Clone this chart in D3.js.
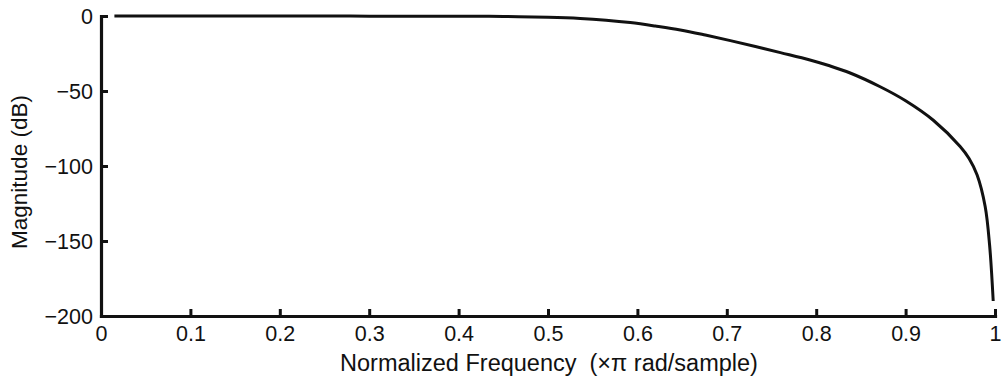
<!DOCTYPE html>
<html><head><meta charset="utf-8">
<script src="https://cdn.jsdelivr.net/npm/d3@7"></script>
<style>body{margin:0;background:#fff}svg{display:block}text{font-family:"Liberation Sans",Arial,sans-serif;fill:#111}</style>
</head><body>
<script>
const freq = [0.015, 0.1, 0.2, 0.3, 0.4, 0.45, 0.5, 0.536, 0.565, 0.592, 0.62, 0.648, 0.676, 0.704, 0.732, 0.76, 0.793, 0.815, 0.838, 0.871, 0.9, 0.931, 0.961, 0.971, 0.98, 0.989, 0.994, 0.998];
const magnitude = [0, 0, 0, -0.1, -0.2, -0.3, -0.8, -1.6, -2.8, -4.4, -6.7, -9.3, -12.7, -16.4, -20.3, -24.4, -29.3, -33.2, -38, -47, -56.5, -69.5, -87, -95, -106, -127, -153, -190];
const xTicks = [0, 0.1, 0.2, 0.3, 0.4, 0.5, 0.6, 0.7, 0.8, 0.9, 1];
const yTicks = [0, -50, -100, -150, -200];
const xLabel = "Normalized Frequency \u00a0(\u00d7\u03c0 rad/sample)";
const yLabel = "Magnitude (dB)";

const W = 1005, H = 383;
const svg = d3.select("body").append("svg").attr("width", W).attr("height", H);
const x = d3.scaleLinear().domain([0, 1]).range([101, 995]);
const y = d3.scaleLinear().domain([-200, 0]).range([316, 16]);

const fmt = d => d === 0 ? "0" : (Number.isInteger(d) ? String(d).replace("-", "\u2212") : String(d));

const gx = svg.append("g").attr("transform", `translate(0,${y(-200)})`)
  .call(d3.axisBottom(x).tickValues(xTicks).tickFormat(fmt).tickSizeInner(-7).tickSizeOuter(0).tickPadding(9));
const gy = svg.append("g").attr("transform", `translate(${x(0)},0)`)
  .call(d3.axisLeft(y).tickValues(yTicks).tickFormat(fmt).tickSizeInner(-7).tickSizeOuter(0).tickPadding(8));
[gx, gy].forEach(g => {
  g.select(".domain").attr("stroke", "#111").attr("stroke-width", 3.2).attr("stroke-linecap", "square");
  g.selectAll(".tick line").attr("stroke", "#111").attr("stroke-width", 3);
  g.selectAll(".tick text").style("font-size", "21.5px").attr("fill", "#111");
});
gx.selectAll(".tick text").attr("dy", "0.74em");
gy.selectAll(".tick text").attr("dy", "0.36em");

svg.append("path")
  .datum(freq.map((f, i) => [f, magnitude[i]]))
  .attr("fill", "none").attr("stroke", "#111").attr("stroke-width", 3).attr("stroke-linejoin", "round")
  .attr("d", d3.line().x(d => x(d[0])).y(d => y(d[1])).curve(d3.curveCatmullRom.alpha(0.5)));

svg.append("text").attr("x", (x(0) + x(1)) / 2 + 1).attr("y", 371).attr("text-anchor", "middle")
  .style("font-size", "23.5px").text(xLabel);
svg.append("text").attr("transform", `translate(27,${(y(0) + y(-200)) / 2 + 6}) rotate(-90)`)
  .attr("text-anchor", "middle").style("font-size", "22.5px").text(yLabel);
</script>
</body></html>
